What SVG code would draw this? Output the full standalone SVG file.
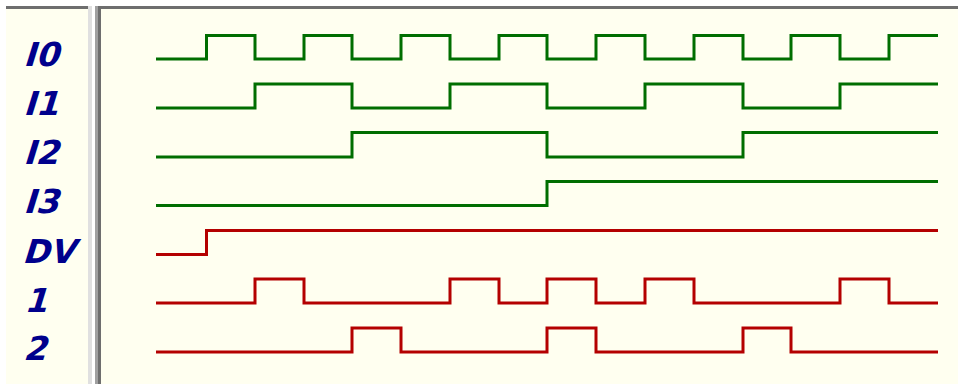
<svg xmlns="http://www.w3.org/2000/svg" width="958" height="384" viewBox="0 0 958 384">
<style>
.lbl{font-family:"DejaVu Sans",Verdana,sans-serif;font-weight:bold;font-size:33px;fill:#00008c}
.g{fill:none;stroke:#006e00;stroke-width:3}
.r{fill:none;stroke:#b40000;stroke-width:3}
</style>
<rect x="0" y="0" width="958" height="384" fill="#ffffff"/>
<rect x="6" y="6" width="82" height="378" fill="#fffff0"/>
<rect x="6" y="6" width="82" height="3" fill="#6e6e6e"/>
<rect x="88" y="6" width="4" height="378" fill="#e0e0e0"/>
<rect x="95" y="6" width="3" height="378" fill="#a0a0a0"/>
<rect x="98" y="6" width="3" height="378" fill="#6e6e6e"/>
<rect x="101" y="9" width="857" height="375" fill="#fffff0"/>
<rect x="98" y="6" width="860" height="3" fill="#6e6e6e"/>
<g id="labels">
<g id="label-I0" transform="translate(23,66) skewX(-17)"><text class="lbl" x="0" y="0">I0</text></g>
<g id="label-I1" transform="translate(23,115) skewX(-17)"><text class="lbl" x="0" y="0">I1</text></g>
<g id="label-I2" transform="translate(23,164) skewX(-17)"><text class="lbl" x="0" y="0">I2</text></g>
<g id="label-I3" transform="translate(23,213) skewX(-17)"><text class="lbl" x="0" y="0">I3</text></g>
<g id="label-DV" transform="translate(22,263) skewX(-17)"><text class="lbl" x="0" y="0" textLength="52" lengthAdjust="spacingAndGlyphs">DV</text></g>
<g id="label-1" transform="translate(24,312) skewX(-17)"><text class="lbl" x="0" y="0">1</text></g>
<g id="label-2" transform="translate(23,360) skewX(-17)"><text class="lbl" x="0" y="0">2</text></g>
</g>
<g id="signals">
<polyline id="I0" class="g" points="156,59 206.5,59 206.5,35.5 255,35.5 255,59 304,59 304,35.5 352,35.5 352,59 401,59 401,35.5 450,35.5 450,59 499,59 499,35.5 547,35.5 547,59 596,59 596,35.5 645,35.5 645,59 694,59 694,35.5 743,35.5 743,59 791,59 791,35.5 840,35.5 840,59 889,59 889,35.5 938,35.5"/>
<polyline id="I1" class="g" points="156,108 255,108 255,84 352,84 352,108 450,108 450,84 547,84 547,108 645,108 645,84 743,84 743,108 840,108 840,84 938,84"/>
<polyline id="I2" class="g" points="156,157 352,157 352,132.5 547,132.5 547,157 743,157 743,132.5 938,132.5"/>
<polyline id="I3" class="g" points="156,205.5 547,205.5 547,181.5 938,181.5"/>
<polyline id="DV" class="r" points="156,254.5 206.5,254.5 206.5,230.5 938,230.5"/>
<polyline id="S1" class="r" points="156,303 255,303 255,279 304,279 304,303 450,303 450,279 499,279 499,303 547,303 547,279 596,279 596,303 645,303 645,279 694,279 694,303 840,303 840,279 889,279 889,303 938,303"/>
<polyline id="S2" class="r" points="156,352 352,352 352,328 401,328 401,352 547,352 547,328 596,328 596,352 743,352 743,328 791,328 791,352 938,352"/>
</g>
</svg>
